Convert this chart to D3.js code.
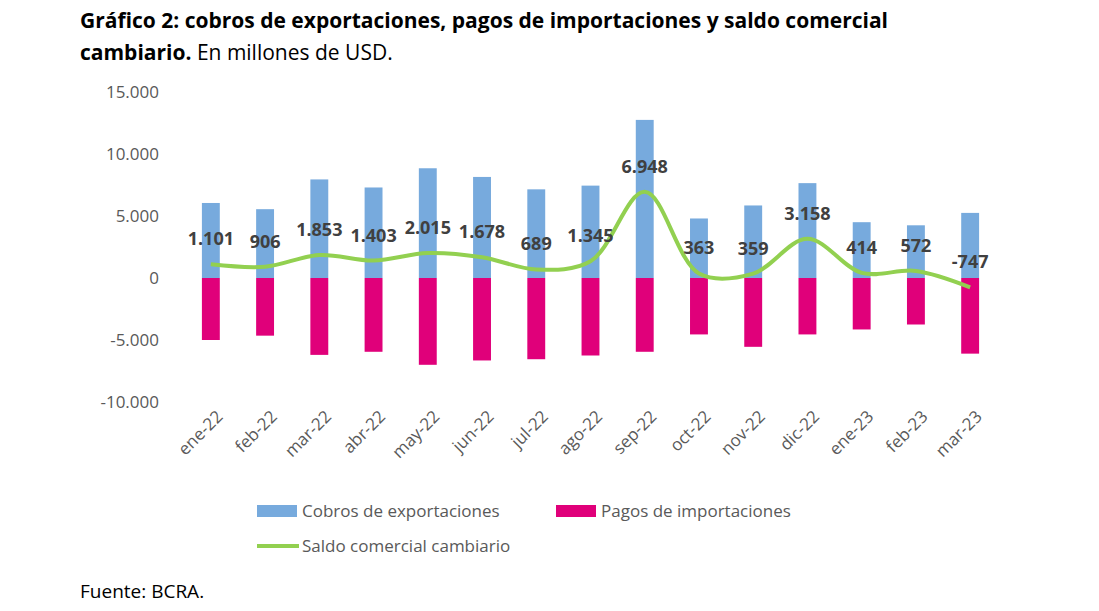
<!DOCTYPE html>
<html><head><meta charset="utf-8">
<script src="https://cdn.jsdelivr.net/npm/d3@7"></script>
<style>body{margin:0;background:#fff;font-family:"Open Sans",sans-serif;}</style>
</head><body><svg id="c" width="1099" height="611"></svg>
<script>
const categories=["ene-22","feb-22","mar-22","abr-22","may-22","jun-22","jul-22","ago-22","sep-22","oct-22","nov-22","dic-22","ene-23","feb-23","mar-23"];
const exportsV=[6050,5550,7950,7300,8850,8150,7150,7450,12750,4800,5850,7650,4500,4250,5250];
const importsV=[-5000,-4650,-6200,-5950,-7000,-6650,-6550,-6250,-5950,-4550,-5550,-4550,-4150,-3750,-6100];
const saldo=[1101,906,1853,1403,2015,1678,689,1345,6948,363,359,3158,414,572,-747];
const yTicks=[-10000,-5000,0,5000,10000,15000];
const svg=d3.select("#c");
const fmt=d3.formatLocale({decimal:",",thousands:".",grouping:[3],currency:["",""],minus:"-"}).format(",d");
const x=d3.scaleBand().domain(categories).range([184,997]).paddingInner(0.67).paddingOuter(0.33);
const y=d3.scaleLinear().domain([-10000,15000]).range([402,92]);
const gy=svg.append("g").attr("transform","translate(162,0)").call(d3.axisLeft(y).tickValues(yTicks).tickFormat(fmt).tickSize(0));
gy.select(".domain").remove();
gy.selectAll("text").attr("font-family","Open Sans").attr("font-size",17).attr("fill","#595959");
const gx=svg.append("g").attr("transform","translate(0,412)").call(d3.axisBottom(x).tickSize(0));
gx.select(".domain").remove();
gx.selectAll("text").attr("font-family","Open Sans").attr("font-size",17).attr("fill","#595959")
 .attr("text-anchor","end").attr("transform","rotate(-45)").attr("dx","0.3em").attr("dy","0.6em");
svg.selectAll(".ex").data(exportsV).enter().append("rect").attr("x",(d,i)=>x(categories[i])).attr("width",x.bandwidth())
 .attr("y",d=>y(d)).attr("height",d=>y(0)-y(d)).attr("fill","#77aadd");
svg.selectAll(".im").data(importsV).enter().append("rect").attr("x",(d,i)=>x(categories[i])).attr("width",x.bandwidth())
 .attr("y",y(0)).attr("height",d=>y(d)-y(0)).attr("fill","#e0007a");
const cx=i=>x(categories[i])+x.bandwidth()/2;
svg.append("path").datum(saldo).attr("fill","none").attr("stroke","#92d050").attr("stroke-width",4)
 .attr("d",d3.line().x((d,i)=>cx(i)).y(d=>y(d)).curve(d3.curveCatmullRom.alpha(0.5)));
svg.selectAll(".lb").data(saldo).enter().append("text").attr("x",(d,i)=>cx(i)).attr("y",d=>y(d)-19)
 .attr("text-anchor","middle").attr("font-family","Open Sans").attr("font-weight","bold").attr("font-size",18)
 .attr("fill","#404040").text(d=>fmt(d));
const t=svg.append("text").attr("x",80).attr("y",28).attr("font-size",21).attr("fill","#000");
t.append("tspan").attr("font-weight","bold").text("Gráfico 2: cobros de exportaciones, pagos de importaciones y saldo comercial");
const t2=svg.append("text").attr("x",80).attr("y",60).attr("font-size",21).attr("fill","#000");
t2.append("tspan").attr("font-weight","bold").text("cambiario.");
t2.append("tspan").text(" En millones de USD.");
function leg(xp,yp,col,label,line){
 if(line) svg.append("line").attr("x1",xp).attr("x2",xp+42).attr("y1",yp).attr("y2",yp).attr("stroke",col).attr("stroke-width",4);
 else svg.append("rect").attr("x",xp).attr("y",yp-6).attr("width",40).attr("height",12).attr("fill",col);
 svg.append("text").attr("x",xp+45).attr("y",yp+6).attr("font-size",17).attr("fill","#595959").text(label);
}
leg(257,511,"#77aadd","Cobros de exportaciones");
leg(556,511,"#e0007a","Pagos de importaciones");
leg(257,546,"#92d050","Saldo comercial cambiario",true);
svg.append("text").attr("x",80).attr("y",598).attr("font-size",19).attr("fill","#000").text("Fuente: BCRA.");
</script></body></html>
